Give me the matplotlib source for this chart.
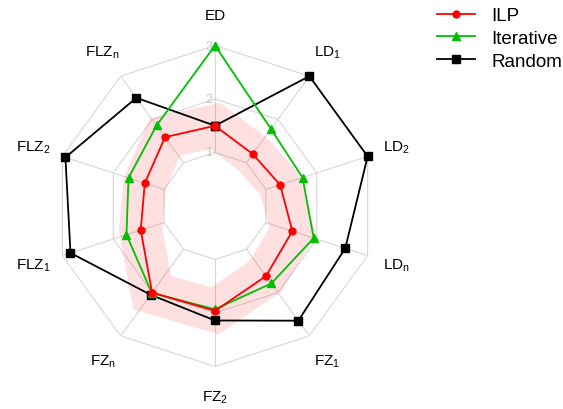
import numpy as np
import matplotlib
matplotlib.use("Agg")
import matplotlib.pyplot as plt
from matplotlib.patches import Polygon

plt.rcParams['font.family'] = ['Liberation Sans', 'DejaVu Sans']
plt.rcParams['mathtext.fontset'] = 'custom'
plt.rcParams['mathtext.rm'] = 'Liberation Sans'
plt.rcParams['mathtext.it'] = 'Liberation Sans'

categories = ['ED', r'LD$_\mathrm{1}$', r'LD$_\mathrm{2}$', r'LD$_\mathrm{n}$', r'FZ$_\mathrm{1}$',
              r'FZ$_\mathrm{2}$', r'FZ$_\mathrm{n}$', r'FLZ$_\mathrm{1}$', r'FLZ$_\mathrm{2}$', r'FLZ$_\mathrm{n}$']
ilp = [1.5, 1.2, 1.28, 1.52, 1.62, 1.96, 2.0, 1.46, 1.38, 1.59]
iterative = [3.0, 1.78, 1.72, 1.94, 1.79, 1.93, 2.01, 1.74, 1.70, 1.86]
random_ = [1.5, 3.0, 3.0, 2.56, 2.65, 2.14, 2.05, 2.84, 2.94, 2.5]
rticks = [1, 2, 3]

n = len(categories)
theta = np.linspace(0, 2 * np.pi, n, endpoint=False)

def closed(v):
    return list(v) + [v[0]]

th_c = closed(theta)

fig = plt.figure(figsize=(5.63, 4.10), dpi=100)
ax = fig.add_axes([54.5 / 563, 1 - 367.5 / 410, 321 / 563, 321 / 410], projection='polar')
ax.set_theta_zero_location('N')
ax.set_theta_direction(-1)
ax.set_ylim(0, 3)
ax.grid(False)
ax.set_xticks([])
ax.set_yticks([])
ax.spines['polar'].set_visible(False)

gcol = '#d6d6d6'
for k in rticks:
    ax.plot(th_c, [k] * (n + 1), color=gcol, lw=0.8, zorder=1)
for t in theta:
    ax.plot([t, t], [rticks[0], rticks[-1]], color=gcol, lw=0.8, zorder=1)

# highlight band along ILP
band = Polygon(np.column_stack([theta, ilp]), closed=True, fill=False,
               edgecolor=(1, 0, 0, 0.12), lw=31, joinstyle='miter', zorder=2)
ax.add_patch(band)

for k in rticks:
    ax.annotate(str(k), xy=(0, k), xytext=(-2, 0), textcoords='offset points',
                ha='right', va='center', fontsize=9, color='#c4c4c4', zorder=3)

ax.plot(th_c, closed(random_), color='black', lw=1.3, marker='s', ms=5.5, label='Random',
        zorder=4, clip_on=False)
ax.plot(th_c, closed(iterative), color='#00c000', lw=1.3, marker='^', ms=6, label='Iterative',
        zorder=5, clip_on=False)
ax.plot(th_c, closed(ilp), color='#ff0000', lw=1.3, marker='o', ms=5, label='ILP',
        zorder=6, clip_on=False)

for t, lab in zip(theta, categories):
    ax.text(t, 3.57, lab, ha='center', va='center', fontsize=11)

h, l = ax.get_legend_handles_labels()
order = [2, 1, 0]
fig.legend([h[i] for i in order], [l[i] for i in order], loc='upper left',
           bbox_to_anchor=(437 / 563, 1 - 8 / 410), frameon=False, fontsize=13.5,
           handlelength=2.0, handletextpad=0.9, labelspacing=0.3, borderpad=0, borderaxespad=0)

fig.savefig('out.png', dpi=100)
